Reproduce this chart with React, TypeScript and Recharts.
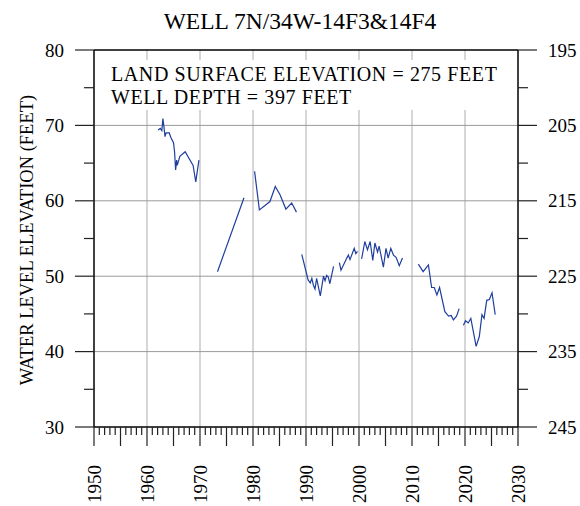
import { LineChart, Line, XAxis, YAxis, CartesianGrid, ReferenceLine } from 'recharts';

// measurement dates (decimal years) and water level elevation in feet; null marks a gap in the record
const years = [
  1962.1, 1962.5, 1962.8, 1963.0, 1963.2, 1963.4, 1963.6, 1964.2, 1964.5, 1965.0, 1965.2, 1965.4, 1965.6, 1965.7,
  1966.2, 1967.2, 1968.7, 1969.2, 1969.8,
  1971.5,
  1973.3, 1978.3,
  1979.3,
  1980.3, 1981.2, 1983.2, 1984.2, 1985.1, 1986.2, 1987.3, 1988.2,
  1988.6,
  1989.2, 1990.4, 1990.8, 1991.1, 1991.4, 1991.7, 1992.0, 1992.7, 1993.3, 1993.6, 1993.9, 1994.2, 1994.5, 1995.2,
  1995.8,
  1996.3, 1996.6, 1997.7, 1998.0, 1998.3, 1999.1, 1999.4, 1999.7,
  2000.1,
  2000.5, 2001.1, 2001.6, 2002.1, 2002.6, 2003.0, 2003.5, 2003.8, 2004.2, 2004.6, 2005.1, 2005.5, 2006.0, 2006.5,
  2007.0, 2007.6, 2008.2,
  2009.5,
  2011.2, 2012.1, 2013.1, 2013.7, 2014.2, 2014.7, 2015.2, 2016.2, 2016.9, 2017.4, 2017.8, 2018.4, 2018.9,
  2019.3,
  2019.7, 2020.1, 2020.6, 2021.1, 2022.1, 2022.7, 2023.2, 2023.6, 2024.1, 2024.6, 2025.1, 2025.7,
];

const levels: (number | null)[] = [
  69.4, 69.6, 69.3, 70.9, 69.8, 68.5, 69.0, 69.0, 68.4, 67.7, 66.5, 64.1, 65.4, 64.7,
  65.9, 66.5, 64.7, 62.5, 65.4,
  null,
  50.6, 60.4,
  null,
  63.9, 58.8, 59.9, 61.9, 60.8, 58.9, 59.7, 58.5,
  null,
  52.9, 49.5, 49.1, 49.7, 48.8, 48.3, 49.7, 47.4, 50.0, 49.4, 50.1, 49.9, 49.0, 51.3,
  null,
  51.8, 50.8, 52.4, 52.8, 52.2, 53.7, 53.0, 53.3,
  null,
  52.3, 54.6, 53.5, 54.6, 52.1, 54.4, 53.2, 54.0, 52.6, 51.2, 53.7, 52.4, 53.7, 52.8,
  52.5, 51.4, 52.4,
  null,
  51.6, 50.6, 51.5, 48.5, 48.5, 47.5, 48.5, 45.3, 44.7, 44.8, 44.2, 44.7, 45.7,
  null,
  43.5, 44.1, 43.8, 44.4, 40.7, 42.0, 44.9, 44.4, 46.8, 46.9, 47.8, 44.9,
];

const gridYears = [1960, 1970, 1980, 1990, 2000, 2010, 2020];
const gridLevels = [40, 50, 60, 70];
const levelTicks = [30, 35, 40, 45, 50, 55, 60, 65, 70, 75, 80];
const levelLabels = [30, 40, 50, 60, 70, 80];
const depthTicks = [195, 200, 205, 210, 215, 220, 225, 230, 235, 240, 245];
const depthLabels = [195, 205, 215, 225, 235, 245];
const yearTicks: number[] = [];
for (let y = 1950; y <= 2030; y++) yearTicks.push(y);

const data = years.map((year, i) => ({ year, level: levels[i] }));

const FONT = "'Liberation Serif', 'Times New Roman', Times, serif";
const AXIS = '#222';

// recharts 3 may hand the grid either a d3 scale function or a wrapper with .map()
const toPixel = (scale: any, v: number) => {
  if (typeof scale === 'function') return scale(v);
  if (scale && typeof scale.map === 'function') return scale.map(v);
  return undefined;
};

function YearTick({ x, y, payload }: any) {
  const v = payload.value;
  const len = v % 5 === 0 ? 19 : 8;
  const ly = y + 38;
  return (
    <g>
      <line x1={x} y1={y} x2={x} y2={y + len} stroke={AXIS} strokeWidth={1.2} />
      {v % 10 === 0 && (
        <text
          x={x}
          y={ly}
          dy="0.35em"
          textAnchor="end"
          transform={`rotate(-90 ${x} ${ly})`}
          fontFamily={FONT}
          fontSize={19}
          fill="#000"
        >
          {String(v)}
        </text>
      )}
    </g>
  );
}

function LeftTick({ x, y, payload }: any) {
  const v = payload.value;
  const major = levelLabels.includes(v);
  const len = major ? 19 : 10;
  return (
    <g>
      <line x1={x - len} y1={y} x2={x} y2={y} stroke={AXIS} strokeWidth={1.2} />
      {major && (
        <text x={x - len - 11} y={y} dy="0.35em" textAnchor="end" fontFamily={FONT} fontSize={19} fill="#000">
          {String(v)}
        </text>
      )}
    </g>
  );
}

function RightTick({ x, y, payload }: any) {
  const v = payload.value;
  const major = depthLabels.includes(v);
  const len = major ? 19 : 10;
  return (
    <g>
      <line x1={x} y1={y} x2={x + len} y2={y} stroke={AXIS} strokeWidth={1.2} />
      {major && (
        <text x={x + len + 11} y={y} dy="0.35em" textAnchor="start" fontFamily={FONT} fontSize={19} fill="#000">
          {String(v)}
        </text>
      )}
    </g>
  );
}

export default function App() {
  return (
    <div
      style={{
        position: 'absolute',
        left: 0,
        top: 0,
        width: 580,
        height: 506,
        background: '#fff',
        fontFamily: FONT,
      }}
    >
      <LineChart
        width={580}
        height={506}
        data={data}
        margin={{ top: 50, right: 0, bottom: 0, left: 0 }}
        style={{ fontFamily: FONT }}
      >
        <CartesianGrid
          yAxisId="left"
          horizontal={false}
          stroke="#c8c8c8"
          strokeWidth={1.5}
          verticalCoordinatesGenerator={({ xAxis }: any) =>
            gridYears.map((v) => toPixel(xAxis?.scale, v)).filter((p) => p !== undefined)
          }
        />
        <CartesianGrid
          yAxisId="left"
          vertical={false}
          stroke="#9a9a9a"
          strokeWidth={1}
          horizontalCoordinatesGenerator={({ yAxis }: any) =>
            gridLevels.map((v) => toPixel(yAxis?.scale, v)).filter((p) => p !== undefined)
          }
        />
        <XAxis
          dataKey="year"
          type="number"
          domain={[1950, 2030]}
          ticks={yearTicks}
          interval={0}
          height={79}
          tickSize={0}
          tickMargin={0}
          tickLine={false}
          tick={<YearTick />}
          axisLine={{ stroke: '#000', strokeWidth: 1.5 }}
          allowDataOverflow
        />
        <YAxis
          yAxisId="left"
          type="number"
          domain={[30, 80]}
          ticks={levelTicks}
          interval={0}
          width={94}
          tickSize={0}
          tickMargin={0}
          tickLine={false}
          tick={<LeftTick />}
          axisLine={{ stroke: '#000', strokeWidth: 1.5 }}
          allowDataOverflow
        />
        <YAxis
          yAxisId="right"
          orientation="right"
          type="number"
          domain={[195, 245]}
          reversed
          ticks={depthTicks}
          interval={0}
          width={62}
          tickSize={0}
          tickMargin={0}
          tickLine={false}
          tick={<RightTick />}
          axisLine={{ stroke: '#000', strokeWidth: 1.5 }}
          allowDataOverflow
        />
        <ReferenceLine yAxisId="left" y={80} stroke="#000" strokeWidth={1.5} />
        <Line
          yAxisId="left"
          type="linear"
          dataKey="level"
          stroke="#1f3f9f"
          strokeWidth={1.2}
          dot={false}
          connectNulls={false}
          isAnimationActive={false}
        />
      </LineChart>
      <svg
        width={580}
        height={506}
        style={{ position: 'absolute', left: 0, top: 0, pointerEvents: 'none', fontFamily: FONT }}
      >
        <text x={300} y={29} textAnchor="middle" fontSize={23.5} fill="#000">
          WELL 7N/34W-14F3&amp;14F4
        </text>
        <text x={33} y={240} textAnchor="middle" transform="rotate(-90 33 240)" fontSize={18.5} fill="#000">
          WATER LEVEL ELEVATION (FEET)
        </text>
        <rect x={99} y={60} width={414} height={50} fill="#fff" />
        <text x={111} y={81} fontSize={20} letterSpacing={0.6} fill="#000">
          LAND SURFACE ELEVATION = 275 FEET
        </text>
        <text x={111} y={103.5} fontSize={20} letterSpacing={0.6} fill="#000">
          WELL DEPTH = 397 FEET
        </text>
      </svg>
    </div>
  );
}
